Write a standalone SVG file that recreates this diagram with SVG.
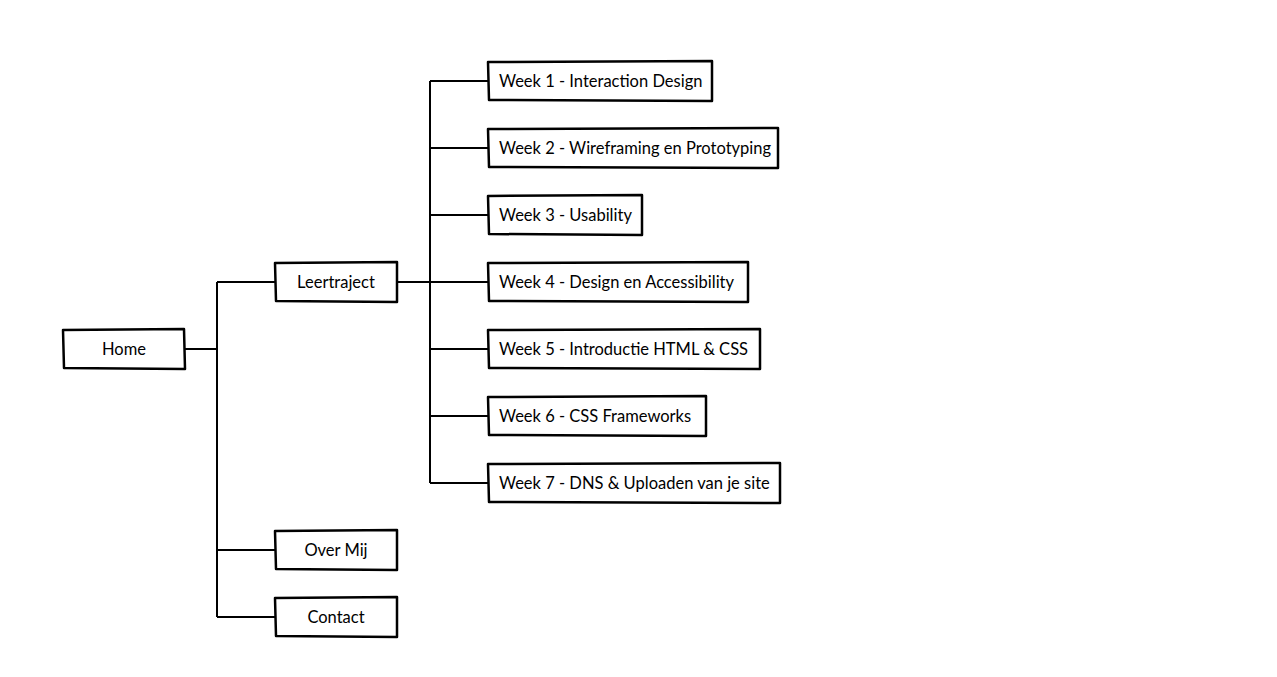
<svg xmlns="http://www.w3.org/2000/svg" width="1277" height="677" viewBox="0 0 1277 677">
<style>
.box{fill:#fff;stroke:#000;stroke-width:2.5;stroke-linejoin:round}
.c{fill:none;stroke:#000;stroke-width:2;stroke-linejoin:round}
.t{font-family:"Lato","Noto Sans",sans-serif;font-size:16.5px;fill:#000}
.m{text-anchor:middle}
</style>
<rect width="1277" height="677" fill="#fff"/>
<g id="connectors">
<path class="c" d="M185 349H217M217 282V617M217 282H275M217 550H275M217 617H275"/>
<path class="c" d="M397 282H488M430 81V483M430 81H488M430 148H488M430 215H488M430 349H488M430 416H488M430 483H488"/>
</g>
<g id="home"><path class="box" d="M63 330L184 329L185 369L64 368Z"/><text class="t m" x="124" y="355">Home</text></g>
<g id="leertraject"><path class="box" d="M275 263L397 262L397 302L276 301Z"/><text class="t m" x="336" y="288">Leertraject</text></g>
<g id="overmij"><path class="box" d="M275 531L397 530L397 570L276 569Z"/><text class="t m" x="336" y="556">Over Mij</text></g>
<g id="contact"><path class="box" d="M275 598L397 597L397 637L276 636Z"/><text class="t m" x="336" y="623">Contact</text></g>
<g id="week1"><path class="box" d="M488 62L712 61L712 101L489 100Z"/><text class="t" x="499" y="87">Week 1 - Interaction Design</text></g>
<g id="week2"><path class="box" d="M488 129L778 128L778 168L489 167Z"/><text class="t" x="499" y="154">Week 2 - Wireframing en Prototyping</text></g>
<g id="week3"><path class="box" d="M488 196L642 195L642 235L489 234Z"/><text class="t" x="499" y="221">Week 3 - Usability</text></g>
<g id="week4"><path class="box" d="M488 263L748 262L748 302L489 301Z"/><text class="t" x="499" y="288">Week 4 - Design en Accessibility</text></g>
<g id="week5"><path class="box" d="M488 330L760 329L760 369L489 368Z"/><text class="t" x="499" y="355">Week 5 - Introductie HTML &amp; CSS</text></g>
<g id="week6"><path class="box" d="M488 397L706 396L706 436L489 435Z"/><text class="t" x="499" y="422">Week 6 - CSS Frameworks</text></g>
<g id="week7"><path class="box" d="M488 464L780 463L780 503L489 502Z"/><text class="t" x="499" y="489">Week 7 - DNS &amp; Uploaden van je site</text></g>
</svg>
